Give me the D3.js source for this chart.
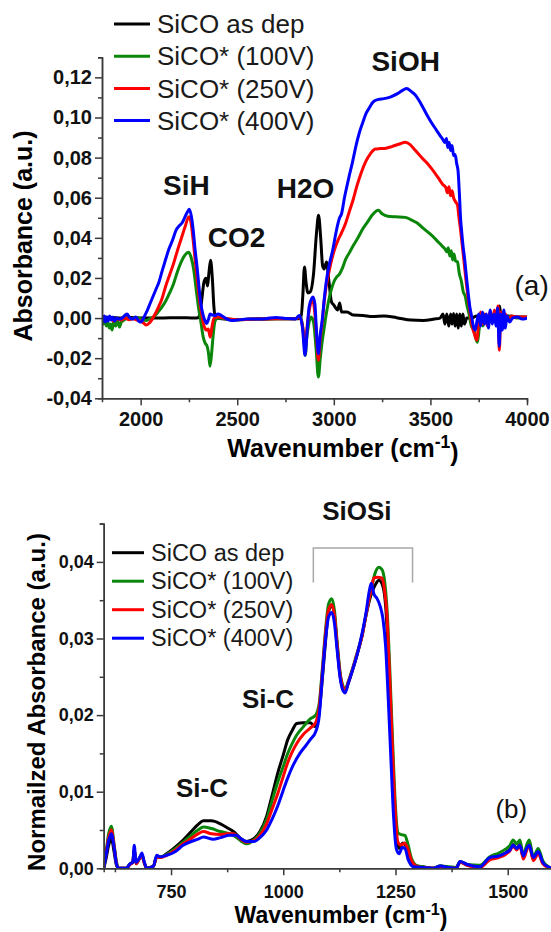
<!DOCTYPE html>
<meta charset="utf-8">
<style>
body { margin: 0; background: #fff; }
svg { display: block; font-family: "Liberation Sans", Arial, sans-serif; }
.axis path, .axis line { stroke: #3a3a3a; stroke-width: 1.5px; }
.axis text { font-weight: bold; fill: #111; }
.series { fill: none; stroke-width: 3px; stroke-linejoin: round; stroke-linecap: round; }
.note { font-weight: bold; fill: #111; text-anchor: middle; }
.legend text { fill: #1a1a1a; }
</style>
<svg width="551" height="932"></svg>
<script src="https://d3js.org/d3.v7.min.js"></script>
<script>
var seriesNames = ["SiCO as dep", "SiCO* (100V)", "SiCO* (250V)", "SiCO* (400V)"];
var seriesColors = ["#000000", "#0a870a", "#ff0000", "#0000ff"];

// panel (a): [wavenumber, absorbance]
var topAsDep = [[1800,0.0005],[1850,0.0003],[1900,0.0],[1950,0.0003],[2000,0.0],[2100,0.0],[2200,0.0002],[2280,0.0],[2300,0.0003],[2315,0.008],[2328,0.018],[2338,0.0198],[2346,0.016],[2353,0.022],[2362,0.0288],[2371,0.02],[2379,0.006],[2387,0.0],[2420,-0.0003],[2500,-0.0008],[2600,-0.0005],[2700,-0.0003],[2800,-0.0004],[2830,0.0],[2840,0.012],[2848,0.0255],[2856,0.018],[2866,0.0125],[2878,0.013],[2895,0.022],[2910,0.042],[2921,0.0512],[2932,0.04],[2942,0.026],[2950,0.0245],[2962,0.028],[2975,0.018],[2988,0.008],[3000,0.0065],[3010,0.005],[3020,0.004],[3030,0.0075],[3040,0.003],[3068,0.003],[3100,0.0015],[3151,0.0013],[3200,0.0008],[3260,0.001],[3325,0.0002],[3400,-0.001],[3462,-0.0012],[3520,-0.0005],[3550,0.0],[3565,0.002],[3575,-0.003],[3585,0.002],[3595,-0.004],[3605,0.002],[3612,-0.003],[3620,0.0023],[3628,-0.004],[3636,0.002],[3644,-0.005],[3652,0.002],[3660,-0.004],[3668,0.002],[3676,-0.003],[3688,0.0],[3710,0.0],[3740,0.001],[3780,0.0005],[3820,0.0015],[3850,0.001],[3858,0.006],[3866,0.0],[3900,0.001],[3950,0.0005],[4000,0.0005]];
var topV100 = [[1800,-0.001],[1808,-0.003],[1815,0.0],[1822,-0.004],[1830,-0.002],[1838,-0.005],[1845,-0.003],[1852,-0.006],[1860,-0.002],[1870,-0.004],[1880,-0.001],[1890,-0.0045],[1900,-0.002],[1915,-0.001],[1930,0.0],[1950,-0.0005],[1970,0.0003],[1990,0.0],[2010,-0.0008],[2030,-0.0012],[2050,-0.0003],[2070,0.0008],[2090,0.003],[2110,0.0055],[2130,0.0085],[2150,0.0125],[2170,0.017],[2190,0.023],[2210,0.028],[2230,0.0315],[2248,0.0328],[2262,0.03],[2275,0.024],[2288,0.014],[2300,0.005],[2312,-0.002],[2324,-0.0095],[2334,-0.0125],[2344,-0.014],[2352,-0.018],[2359,-0.024],[2367,-0.018],[2376,-0.008],[2385,-0.0015],[2400,0.0],[2450,-0.0005],[2500,-0.0008],[2600,-0.0005],[2700,-0.0003],[2800,-0.0003],[2825,0.0005],[2835,-0.002],[2845,-0.01],[2852,-0.0186],[2860,-0.01],[2870,-0.003],[2882,0.0005],[2895,-0.002],[2908,-0.015],[2920,-0.0294],[2930,-0.02],[2940,-0.0115],[2950,-0.005],[2960,0.0015],[2972,0.008],[2985,0.0135],[3000,0.018],[3015,0.0205],[3030,0.022],[3045,0.025],[3060,0.029],[3080,0.0325],[3100,0.036],[3125,0.04],[3150,0.0445],[3175,0.048],[3200,0.0515],[3230,0.0537],[3250,0.052],[3280,0.0508],[3320,0.0505],[3370,0.0502],[3400,0.049],[3430,0.0475],[3460,0.045],[3500,0.0418],[3530,0.039],[3560,0.036],[3575,0.0345],[3585,0.033],[3592,0.035],[3600,0.031],[3608,0.0335],[3615,0.029],[3622,0.032],[3630,0.0285],[3640,0.028],[3650,0.022],[3660,0.0185],[3670,0.013],[3680,0.011],[3690,0.006],[3700,0.002],[3712,-0.004],[3725,-0.006],[3735,-0.01],[3743,-0.012],[3752,-0.006],[3760,0.0],[3772,-0.004],[3785,0.001],[3800,-0.003],[3812,0.002],[3825,-0.002],[3838,0.001],[3850,-0.004],[3858,0.003],[3866,-0.006],[3875,0.001],[3888,-0.002],[3900,0.0],[3920,0.001],[3950,0.0],[4000,0.0003]];
var topV250 = [[1800,-0.0005],[1820,-0.001],[1840,0.0],[1860,-0.0015],[1880,-0.0005],[1900,-0.001],[1920,0.0],[1940,-0.0008],[1960,-0.0003],[1980,-0.001],[2000,-0.0015],[2015,-0.0025],[2030,-0.0035],[2045,-0.0025],[2060,-0.0005],[2075,0.002],[2090,0.005],[2110,0.0095],[2130,0.016],[2150,0.0215],[2170,0.027],[2190,0.0335],[2210,0.0395],[2230,0.0455],[2250,0.0505],[2260,0.048],[2270,0.0405],[2280,0.031],[2292,0.02],[2305,0.009],[2318,0.001],[2330,-0.0045],[2342,-0.006],[2350,-0.0055],[2360,-0.0095],[2370,-0.004],[2380,0.0],[2400,0.0005],[2450,-0.0003],[2500,-0.0008],[2600,-0.0005],[2700,-0.0003],[2800,-0.0004],[2825,0.0005],[2838,-0.004],[2852,-0.0145],[2862,-0.004],[2875,0.005],[2890,0.0095],[2900,0.004],[2910,-0.008],[2920,-0.021],[2930,-0.01],[2940,-0.002],[2950,0.008],[2960,0.0155],[2975,0.023],[2990,0.0295],[3005,0.0345],[3020,0.0385],[3040,0.0425],[3060,0.047],[3080,0.053],[3100,0.059],[3120,0.066],[3140,0.072],[3165,0.078],[3190,0.082],[3215,0.0843],[3240,0.0845],[3270,0.0847],[3300,0.0855],[3340,0.0868],[3370,0.0876],[3395,0.0865],[3420,0.0838],[3450,0.0805],[3480,0.0775],[3510,0.074],[3540,0.07],[3565,0.0665],[3580,0.065],[3588,0.0625],[3596,0.0655],[3604,0.061],[3612,0.0635],[3620,0.06],[3630,0.058],[3640,0.0565],[3648,0.05],[3656,0.044],[3664,0.037],[3674,0.028],[3684,0.019],[3694,0.011],[3704,0.004],[3716,-0.004],[3728,-0.008],[3740,-0.011],[3750,-0.002],[3760,0.003],[3770,-0.003],[3782,0.002],[3795,-0.004],[3808,0.003],[3820,-0.002],[3832,0.004],[3842,-0.003],[3850,0.006],[3857,-0.016],[3864,0.003],[3875,-0.005],[3888,0.002],[3900,-0.001],[3920,0.001],[3950,0.0005],[4000,0.0005]];
var topV400 = [[1800,0.0],[1806,-0.0015],[1812,0.001],[1818,-0.002],[1825,0.0005],[1832,-0.0015],[1840,0.001],[1848,-0.001],[1856,0.0005],[1865,-0.0015],[1875,0.0],[1890,-0.0005],[1905,0.0],[1920,0.0015],[1930,0.002],[1945,0.0],[1960,-0.0005],[1975,0.0005],[1990,-0.0015],[2000,-0.002],[2010,-0.001],[2020,0.001],[2035,0.004],[2050,0.0075],[2065,0.011],[2080,0.0145],[2095,0.018],[2110,0.023],[2128,0.0288],[2145,0.034],[2165,0.0388],[2183,0.0437],[2200,0.046],[2215,0.0475],[2230,0.0505],[2240,0.0525],[2252,0.0543],[2262,0.051],[2272,0.044],[2282,0.034],[2292,0.0255],[2302,0.0155],[2312,0.007],[2322,0.002],[2332,-0.001],[2342,-0.0027],[2350,-0.001],[2360,0.002],[2372,0.0015],[2385,0.0013],[2400,0.002],[2415,0.0015],[2438,0.0],[2470,-0.0012],[2500,-0.001],[2550,-0.0005],[2600,-0.0005],[2650,-0.0003],[2700,0.0003],[2750,-0.0002],[2800,-0.0005],[2822,0.0013],[2838,-0.005],[2851,-0.0186],[2862,-0.006],[2872,0.0055],[2892,0.0105],[2902,0.007],[2910,-0.006],[2920,-0.0178],[2930,-0.008],[2940,-0.001],[2950,0.009],[2960,0.0175],[2975,0.026],[2994,0.0338],[3010,0.042],[3021,0.047],[3030,0.05],[3040,0.052],[3055,0.06],[3067,0.0654],[3080,0.071],[3095,0.077],[3115,0.086],[3131,0.092],[3150,0.0975],[3167,0.102],[3185,0.105],[3204,0.1078],[3230,0.109],[3259,0.1094],[3295,0.1103],[3332,0.112],[3360,0.1138],[3377,0.1144],[3400,0.113],[3423,0.1111],[3450,0.107],[3478,0.102],[3505,0.0975],[3532,0.0936],[3550,0.091],[3565,0.089],[3575,0.0875],[3583,0.0895],[3590,0.085],[3597,0.0875],[3605,0.0835],[3612,0.086],[3620,0.081],[3628,0.0815],[3636,0.077],[3643,0.0735],[3650,0.062],[3656,0.05],[3662,0.043],[3670,0.035],[3678,0.0288],[3687,0.02],[3696,0.0121],[3705,0.005],[3714,0.0005],[3722,-0.004],[3732,-0.006],[3742,-0.001],[3751,0.002],[3760,-0.004],[3770,0.003],[3780,-0.003],[3790,0.002],[3800,-0.005],[3810,0.004],[3820,-0.003],[3830,0.002],[3840,-0.004],[3848,0.005],[3856,-0.014],[3864,0.002],[3872,-0.006],[3880,0.004],[3888,-0.005],[3896,0.001],[3910,-0.002],[3925,0.0],[3950,0.0005],[3975,-0.0005],[4000,0.0]];

// panel (b): [wavenumber, normalized absorbance]
var botAsDep = [[600,0.0],[605,0.0012],[611,0.003],[617,0.0039],[623,0.0022],[628,0.0005],[633,0.0],[650,0.0],[659,0.0006],[665,0.0008],[668,0.0026],[672,0.0006],[680,0.0013],[685,0.0017],[690,0.0008],[696,0.0],[711,0.0003],[718,0.0015],[725,0.0014],[740,0.0019],[760,0.0028],[777,0.0037],[795,0.0048],[810,0.0057],[822,0.0062],[840,0.0062],[860,0.0058],[875,0.0053],[889,0.0048],[905,0.0039],[918,0.0035],[935,0.0039],[948,0.0048],[963,0.0068],[975,0.0095],[988,0.0125],[1000,0.0148],[1010,0.0168],[1020,0.018],[1030,0.0189],[1045,0.019],[1060,0.019],[1070,0.0185],[1078,0.0196],[1086,0.024],[1094,0.0295],[1101,0.0335],[1108,0.0344],[1114,0.033],[1120,0.029],[1127,0.025],[1133,0.0235],[1138,0.0232],[1145,0.0242],[1155,0.026],[1165,0.028],[1175,0.0302],[1185,0.0332],[1195,0.0356],[1205,0.037],[1213,0.0376],[1222,0.0368],[1228,0.0343],[1234,0.028],[1240,0.019],[1246,0.01],[1252,0.004],[1258,0.0026],[1266,0.0033],[1272,0.003],[1280,0.0012],[1292,0.0003],[1310,0.0002],[1334,0.0],[1350,0.0003],[1370,0.0001],[1385,0.0],[1394,0.0008],[1410,0.0004],[1438,0.0002],[1460,0.0012],[1480,0.0016],[1495,0.002],[1505,0.0025],[1512,0.0031],[1520,0.0026],[1527,0.0031],[1535,0.0014],[1542,0.0025],[1548,0.0031],[1557,0.0012],[1568,0.0021],[1578,0.0008],[1590,0.0002],[1600,0.0]];
var botV100 = [[600,0.0],[605,0.002],[611,0.0045],[617,0.0055],[623,0.0032],[628,0.001],[633,0.0],[650,0.0],[659,0.0006],[665,0.0008],[668,0.0024],[672,0.0007],[680,0.0014],[685,0.0018],[690,0.0008],[696,0.0],[711,0.0003],[718,0.0015],[725,0.0015],[740,0.0018],[760,0.0026],[777,0.0034],[795,0.0043],[810,0.005],[822,0.0054],[840,0.0052],[860,0.0048],[875,0.0046],[889,0.0043],[905,0.0036],[918,0.0032],[935,0.0037],[948,0.0046],[963,0.0064],[975,0.0088],[988,0.0113],[1000,0.0133],[1010,0.015],[1020,0.0163],[1030,0.0174],[1045,0.0185],[1060,0.0195],[1072,0.02],[1080,0.0215],[1087,0.026],[1094,0.031],[1101,0.0345],[1108,0.0352],[1114,0.0337],[1120,0.0296],[1127,0.0254],[1133,0.0238],[1138,0.0234],[1145,0.0244],[1155,0.0262],[1165,0.0282],[1175,0.0303],[1185,0.0333],[1195,0.0362],[1205,0.0386],[1213,0.0393],[1220,0.039],[1226,0.0374],[1232,0.033],[1238,0.025],[1244,0.016],[1250,0.008],[1256,0.0046],[1263,0.0044],[1271,0.0043],[1277,0.0033],[1285,0.0014],[1296,0.0004],[1310,0.0002],[1334,0.0],[1350,0.0003],[1370,0.0002],[1385,0.0001],[1394,0.0009],[1410,0.0005],[1438,0.0004],[1460,0.0015],[1480,0.002],[1495,0.0025],[1505,0.003],[1512,0.0037],[1520,0.0032],[1527,0.0037],[1535,0.0017],[1542,0.003],[1548,0.0037],[1557,0.0015],[1568,0.0026],[1578,0.001],[1590,0.0002],[1600,0.0]];
var botV250 = [[600,0.0],[605,0.0018],[611,0.004],[617,0.005],[623,0.003],[628,0.0008],[633,0.0],[650,0.0],[659,0.0005],[665,0.0008],[668,0.0025],[672,0.0006],[680,0.0013],[685,0.0017],[690,0.0008],[696,0.0],[711,0.0003],[718,0.0015],[725,0.0014],[740,0.0017],[760,0.0024],[777,0.0032],[795,0.0039],[810,0.0045],[822,0.0048],[840,0.0045],[860,0.0044],[875,0.0045],[889,0.0045],[905,0.0038],[918,0.0034],[935,0.0036],[948,0.0043],[963,0.0058],[975,0.0077],[988,0.0098],[1000,0.012],[1010,0.0138],[1020,0.0152],[1030,0.0163],[1045,0.0175],[1060,0.0183],[1072,0.019],[1080,0.021],[1087,0.0255],[1094,0.0305],[1101,0.0338],[1108,0.0344],[1114,0.033],[1120,0.0292],[1127,0.0252],[1133,0.0236],[1138,0.0232],[1145,0.0243],[1155,0.0261],[1165,0.0281],[1175,0.0302],[1185,0.0333],[1195,0.0362],[1202,0.0379],[1210,0.038],[1219,0.0379],[1225,0.0366],[1231,0.033],[1237,0.025],[1243,0.016],[1249,0.008],[1255,0.0035],[1262,0.003],[1270,0.0033],[1277,0.0026],[1285,0.0011],[1296,0.0003],[1310,0.0001],[1334,0.0],[1350,0.0002],[1370,0.0],[1385,0.0],[1394,0.0008],[1410,0.0004],[1438,0.0001],[1460,0.0011],[1480,0.0014],[1495,0.0018],[1505,0.0023],[1512,0.0029],[1520,0.0024],[1527,0.003],[1535,0.0012],[1542,0.0023],[1548,0.003],[1557,0.001],[1568,0.0019],[1578,0.0006],[1590,0.0001],[1600,0.0]];
var botV400 = [[600,0.0],[605,0.0016],[611,0.0036],[617,0.0045],[623,0.0028],[628,0.0007],[633,0.0],[650,0.0],[659,0.0006],[665,0.0008],[668,0.003],[672,0.0008],[680,0.0014],[685,0.002],[690,0.0009],[696,0.0],[711,0.0003],[718,0.0017],[725,0.0015],[740,0.0017],[760,0.0022],[777,0.003],[795,0.0035],[810,0.0038],[822,0.0041],[844,0.0038],[860,0.004],[881,0.0043],[895,0.0043],[905,0.0039],[918,0.0035],[935,0.0035],[948,0.004],[963,0.005],[975,0.0064],[988,0.0082],[1000,0.0102],[1010,0.0118],[1020,0.0132],[1037,0.015],[1050,0.016],[1060,0.0168],[1072,0.0178],[1080,0.0198],[1087,0.025],[1094,0.0298],[1101,0.0328],[1108,0.0334],[1114,0.032],[1120,0.0285],[1127,0.0247],[1133,0.0232],[1138,0.0229],[1145,0.0242],[1155,0.026],[1165,0.028],[1175,0.0305],[1185,0.0336],[1191,0.036],[1196,0.0372],[1202,0.0358],[1209,0.0352],[1216,0.0342],[1222,0.0326],[1228,0.029],[1234,0.022],[1240,0.014],[1246,0.0065],[1252,0.0025],[1258,0.0019],[1265,0.0027],[1271,0.0026],[1278,0.0012],[1290,0.0002],[1310,0.0001],[1334,0.0],[1350,0.0003],[1370,0.0001],[1385,0.0],[1394,0.0009],[1410,0.0005],[1438,0.0002],[1460,0.0014],[1480,0.0016],[1495,0.002],[1505,0.0024],[1512,0.003],[1520,0.0026],[1527,0.003],[1535,0.0016],[1542,0.0026],[1548,0.003],[1557,0.0014],[1568,0.0022],[1578,0.0008],[1590,0.0002],[1600,0.0]];

var topXTicks = [2000, 2500, 3000, 3500, 4000],
    topXMinor = [2250, 2750, 3250, 3750],
    topYTicks = [-0.04, -0.02, 0, 0.02, 0.04, 0.06, 0.08, 0.10, 0.12],
    topYMinor = [-0.03, -0.01, 0.01, 0.03, 0.05, 0.07, 0.09, 0.11, 0.13];
var botXTicks = [750, 1000, 1250, 1500],
    botXMinor = [625, 875, 1125, 1375],
    botYTicks = [0, 0.01, 0.02, 0.03, 0.04],
    botYMinor = [0.005, 0.015, 0.025, 0.035, 0.045];

// annotations: [label, wavenumber, value, bold]
var topNotes = [["SiOH", 3372, 0.128, true], ["SiH", 2237, 0.0663, true], ["CO2", 2496, 0.0405, true],
                ["H2O", 2854, 0.0647, true], ["(a)", 4024, 0.0163, false]];
var botNotes = [["SiOSi", 1164, 0.0466, true], ["Si-C", 966, 0.0221, true], ["Si-C", 819, 0.0105, true],
                ["(b)", 1508, 0.0078, false]];
var bracket = [1067, 1288, 0.0418, 0.0373];

var svg = d3.select("svg");
var comma = function(d) { return d.toFixed(2).replace(".", ","); };

function panel(o) {
  var x = d3.scaleLinear().domain(o.xDomain).range(o.xRange),
      y = d3.scaleLinear().domain(o.yDomain).range(o.yRange);
  var g = svg.append("g");

  g.append("clipPath").attr("id", o.id)
    .append("rect")
      .attr("x", o.xRange[0]).attr("y", o.yRange[1])
      .attr("width", o.xRange[1] - o.xRange[0]).attr("height", o.yRange[0] - o.yRange[1]);

  var line = d3.line()
      .x(function(d) { return x(d[0]); })
      .y(function(d) { return y(d[1]); })
      .curve(d3.curveMonotoneX);

  g.append("g").attr("clip-path", "url(#" + o.id + ")")
    .selectAll("path")
    .data(o.series)
    .enter().append("path")
      .attr("class", "series")
      .attr("stroke", function(d, i) { return seriesColors[i]; })
      .attr("d", line);

  // minor ticks first, then the labelled axis on top
  g.append("g").attr("class", "axis")
      .attr("transform", "translate(0," + o.yRange[0] + ")")
      .call(d3.axisBottom(x).tickValues(o.xMinor).tickSize(4).tickFormat(""));
  g.append("g").attr("class", "axis")
      .attr("transform", "translate(" + o.xRange[0] + ",0)")
      .call(d3.axisLeft(y).tickValues(o.yMinor).tickSize(4).tickFormat(""));
  g.append("g").attr("class", "axis")
      .attr("transform", "translate(0," + o.yRange[0] + ")")
      .style("font-size", o.tickFont + "px")
      .call(d3.axisBottom(x).tickValues(o.xTicks).tickSize(7).tickPadding(o.xPad).tickSizeOuter(0).tickFormat(d3.format("d")));
  g.append("g").attr("class", "axis")
      .attr("transform", "translate(" + o.xRange[0] + ",0)")
      .style("font-size", o.tickFont + "px")
      .call(d3.axisLeft(y).tickValues(o.yTicks).tickSize(7).tickPadding(3).tickSizeOuter(0).tickFormat(comma));
  g.selectAll(".axis").attr("font-family", null).attr("font-size", null);

  g.append("text")
      .attr("transform", "translate(" + o.yTitle[0] + "," + o.yTitle[1] + ") rotate(-90)")
      .attr("text-anchor", "middle")
      .style("font-weight", "bold").style("font-size", o.titleFont[1] + "px")
      .text(o.yLabel);

  var xt = g.append("text")
      .attr("x", o.xTitle[0]).attr("y", o.xTitle[1])
      .attr("text-anchor", "middle")
      .style("font-weight", "bold").style("font-size", o.titleFont[0] + "px");
  xt.append("tspan").text("Wavenumber (cm");
  xt.append("tspan").attr("dy", "-0.5em").style("font-size", "70%").text("-1");
  xt.append("tspan").attr("dy", "0.5em").text(")");

  var lg = g.append("g").attr("class", "legend");
  seriesNames.forEach(function(name, i) {
    var yy = o.legend.y + i * o.legend.step;
    lg.append("line")
        .attr("x1", o.legend.x).attr("x2", o.legend.x + o.legend.len)
        .attr("y1", yy).attr("y2", yy)
        .attr("stroke", seriesColors[i]).attr("stroke-width", 3);
    lg.append("text")
        .attr("x", o.legend.x + o.legend.len + 7).attr("y", yy).attr("dy", "0.35em")
        .style("font-size", o.legend.font + "px")
        .text(name);
  });

  o.notes.forEach(function(n) {
    g.append("text")
        .attr("class", "note")
        .attr("x", x(n[1])).attr("y", y(n[2])).attr("dy", "0.35em")
        .style("font-size", o.noteFont + "px")
        .style("font-weight", n[3] ? "bold" : "normal")
        .text(n[0]);
  });

  return {x: x, y: y, g: g};
}

panel({
  id: "clipA",
  xDomain: [1800, 4000], xRange: [102, 527],
  yDomain: [-0.04, 0.13], yRange: [398.3, 57.3],
  series: [topAsDep, topV100, topV250, topV400],
  xTicks: topXTicks, xMinor: topXMinor, yTicks: topYTicks, yMinor: topYMinor,
  tickFont: 20, xPad: 7,
  yLabel: "Absorbance (a.u.)", yTitle: [32, 236], xTitle: [343, 457], titleFont: [25, 25],
  legend: {x: 114, y: 24, step: 32.2, len: 36, font: 26},
  notes: topNotes, noteFont: 28
});

var b = panel({
  id: "clipB",
  xDomain: [600, 1600], xRange: [103.7, 552.6],
  yDomain: [0, 0.045], yRange: [868.3, 523.6],
  series: [botAsDep, botV100, botV250, botV400],
  xTicks: botXTicks, xMinor: botXMinor, yTicks: botYTicks, yMinor: botYMinor,
  tickFont: 18, xPad: 10,
  yLabel: "Normailzed Absorbance (a.u.)", yTitle: [45, 702], xTitle: [341, 923], titleFont: [23, 24],
  legend: {x: 112, y: 552.7, step: 28.5, len: 32, font: 23.5},
  notes: botNotes, noteFont: 26
});

// SiOSi bracket
b.g.append("path")
    .attr("fill", "none")
    .attr("stroke", "#a8a8a8")
    .attr("stroke-width", 1.5)
    .attr("d", "M" + b.x(bracket[0]) + "," + b.y(bracket[3]) +
               "V" + b.y(bracket[2]) + "H" + b.x(bracket[1]) + "V" + b.y(bracket[3]));
</script>
